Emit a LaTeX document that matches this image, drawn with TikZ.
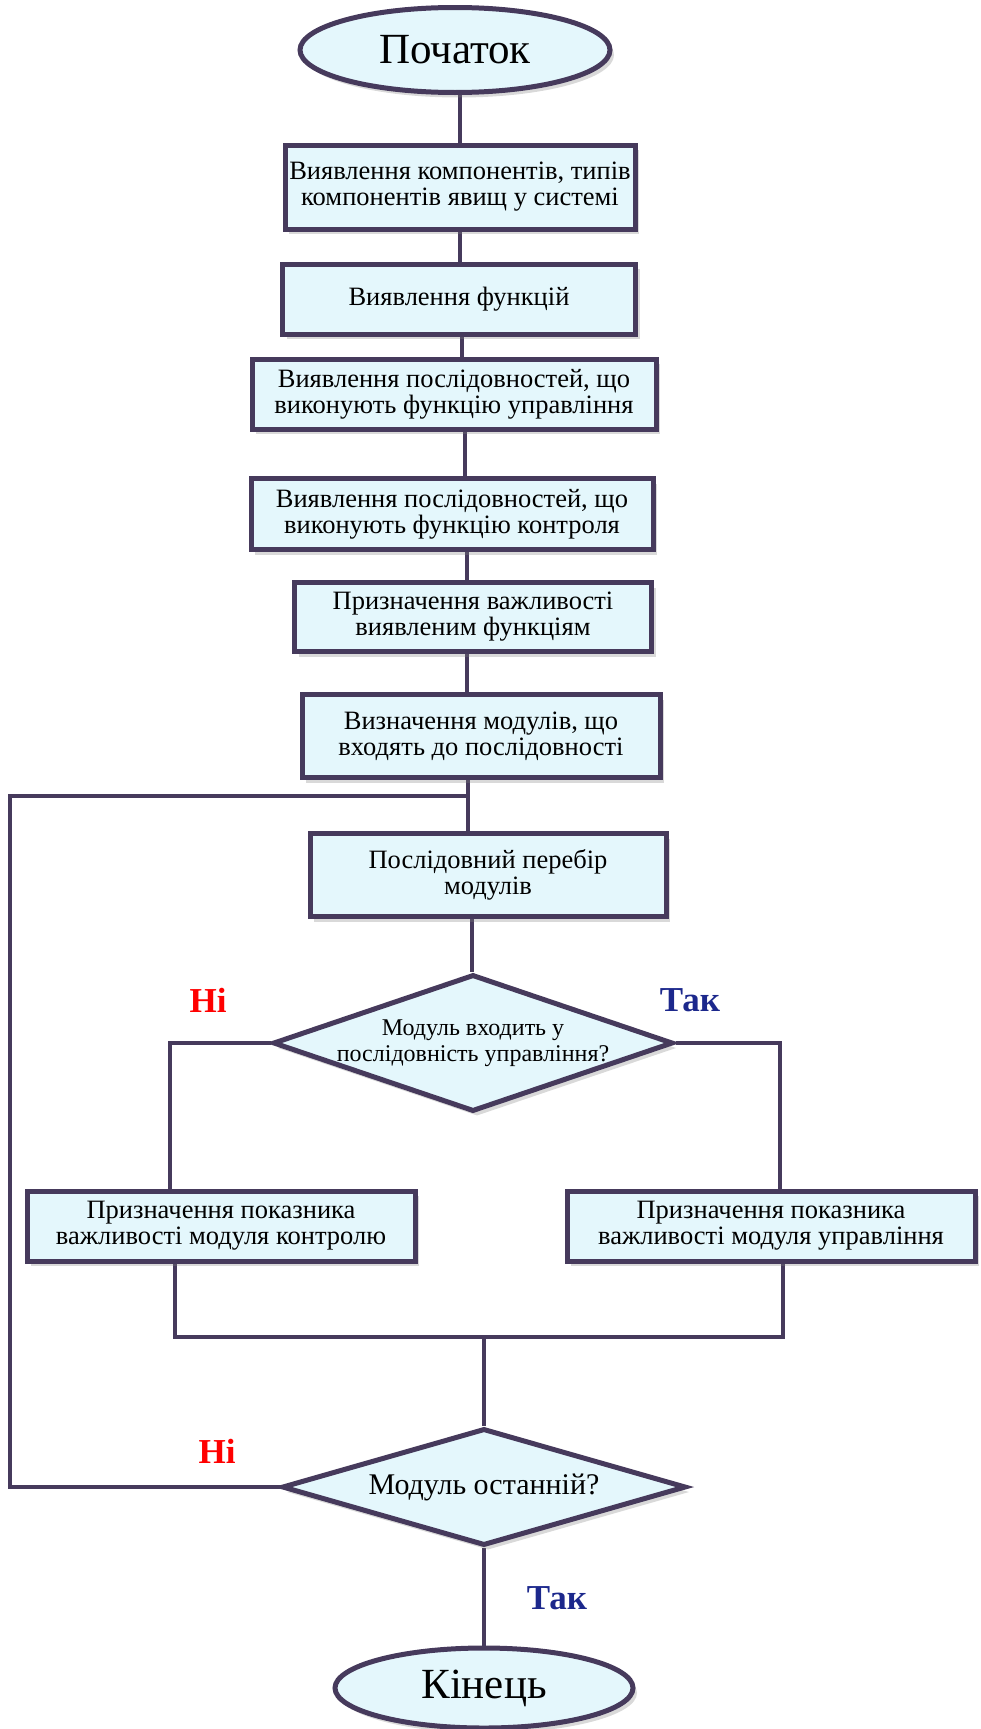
\documentclass[tikz,border=0pt]{standalone}
\usepackage{fontspec}
\setmainfont{Liberation Serif}
\usetikzlibrary{arrows,shapes,shadows}
\pgfdeclarelayer{background}
\pgfsetlayers{background,main}
\definecolor{framecol}{RGB}{70,58,92}
\definecolor{boxfill}{RGB}{228,247,252}
\definecolor{yescol}{RGB}{28,40,140}
\tikzstyle{process}=[rectangle,draw=framecol,line width=5pt,fill=boxfill,align=center,inner sep=0pt,font=\fontsize{26.5}{26}\selectfont,drop shadow={shadow xshift=4pt,shadow yshift=-5pt,opacity=0.3}]
\tikzstyle{decision}=[diamond,draw=framecol,line width=5pt,fill=boxfill,inner sep=0pt,drop shadow={shadow xshift=4pt,shadow yshift=-5pt,opacity=0.3}]
\tikzstyle{question}=[align=center,inner sep=0pt]
\tikzstyle{terminal}=[ellipse,draw=framecol,line width=5pt,fill=boxfill,inner sep=0pt,font=\fontsize{43}{46}\selectfont,drop shadow={shadow xshift=4pt,shadow yshift=-5pt,opacity=0.3}]
\tikzstyle{edge}=[draw=framecol,line width=4pt]
\tikzstyle{answerno}=[font=\fontsize{35}{40}\selectfont\bfseries,text=red]
\tikzstyle{answeryes}=[font=\fontsize{35}{40}\selectfont\bfseries,text=yescol]

\begin{document}
\begin{tikzpicture}[x=1pt,y=-1pt]
    \useasboundingbox (0,0) rectangle (980,1729);
    % Start and end of the algorithm
    \node[terminal,minimum width=310,minimum height=85] (start) at (455,50) {Початок};
    \node[terminal,minimum width=298,minimum height=80] (stop) at (484,1688) {Кінець};

    % Then the process boxes
    \foreach \pos/\name/\w/\h/\txt in {{(460,187)/box1/350/84/{Виявлення компонентів, типів\\компонентів явищ у системі}},
        {(459,299)/box2/353/70/{Виявлення функцій}},
        {(454,394)/box3/404/70/{Виявлення послідовностей, що\\виконують функцію управління}},
        {(452,514)/box4/402/71/{Виявлення послідовностей, що\\виконують функцію контроля}},
        {(473,617)/box5/357/69/{Призначення важливості\\виявленим функціям}},
        {(481,736)/box6/358/83/{Визначення модулів, що\\входять до послідовності}},
        {(488,875)/box7/356/83/{Послідовний перебір\\модулів}},
        {(221,1226)/ctrl/388/70/{Призначення показника\\важливості модуля контролю}},
        {(771,1226)/mgmt/408/70/{Призначення показника\\важливості модуля управління}}}
        \node[process,minimum width=\w,minimum height=\h] (\name) at \pos {\txt};

    % The two questions
    \node[decision,minimum width=400,minimum height=137,
        label={[question,font=\fontsize{24}{26}\selectfont]center:{Модуль входить у\\послідовність управління?}}] (check) at (473,1043) {};
    \node[decision,minimum width=404,minimum height=117,
        label={[question,font=\fontsize{30}{32}\selectfont]center:{Модуль останній?}}] (last) at (484,1487) {};

    % Answers
    \node[answerno] (no1) at (208,1000) {Ні};
    \node[answeryes] (yes1) at (690,1000) {Так};
    \node[answerno] (no2) at (217,1451) {Ні};
    \node[answeryes] (yes2) at (557,1598) {Так};

    \begin{pgfonlayer}{background}
    % Connect the main column
    \foreach \source/\dest/\x in {start/box1/460, box1/box2/460, box2/box3/462, box3/box4/465, box4/box5/467, box5/box6/467, box6/box7/468, box7/check/472}
    {
        \coordinate (spine) at (\x,0);
        \path[edge] (spine |- \source.south) -- (spine |- \dest.north);
    }
    % Branches of the first question
    \path[edge] (check.west) -| ([xshift=-51pt]ctrl.north);
    \path[edge] (check.east) -| ([xshift=9pt]mgmt.north);
    \coordinate (merge) at (484,1337);
    \path[edge] ([xshift=-46pt]ctrl.south) |- (merge) -| ([xshift=12pt]mgmt.south);
    \path[edge] (merge) -- (last.north);
    % Loop back and exit
    \coordinate (loopcorner) at (10,796);
    \coordinate (join) at (468,796);
    \path[edge] (last.west) -| (loopcorner) -- (join);
    \path[edge] (last.south) -- (stop.north);
    \end{pgfonlayer}
\end{tikzpicture}
\end{document}
